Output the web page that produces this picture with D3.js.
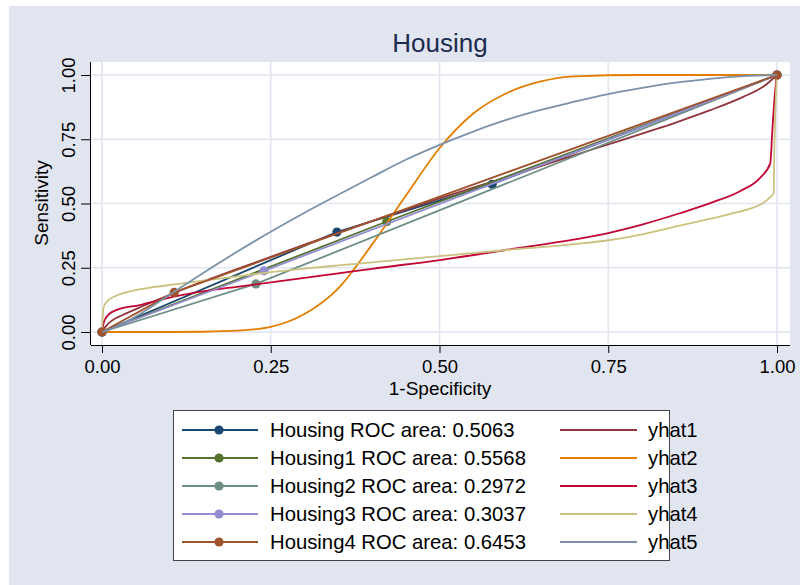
<!DOCTYPE html>
<html>
<head>
<meta charset="utf-8">
<script src="https://cdn.jsdelivr.net/npm/d3@7"></script>
<style>
  html, body { margin: 0; padding: 0; background: #ffffff; }
  svg { display: block; font-family: "Liberation Sans", Arial, sans-serif; }
</style>
</head>
<body>
<svg id="chart" width="800" height="585"></svg>
<script>
// ---------- data ----------
const chartTitle = "Housing";
const xTitle = "1-Specificity";
const yTitle = "Sensitivity";
const xTicks = [0, 0.25, 0.5, 0.75, 1];
const yTicks = [0, 0.25, 0.5, 0.75, 1];

// empirical ROC curves (connected points)
const rocNames = ["Housing", "Housing1", "Housing2", "Housing3", "Housing4"];
const rocAreas = ["0.5063", "0.5568", "0.2972", "0.3037", "0.6453"];
const rocX0 = [0, 0.348, 0.578, 1];
const rocY0 = [0, 0.389, 0.575, 1];
const rocX1 = [0, 0.422, 1];
const rocY1 = [0, 0.430, 1];
const rocX2 = [0, 0.228, 1];
const rocY2 = [0, 0.187, 1];
const rocX3 = [0, 0.240, 1];
const rocY3 = [0, 0.238, 1];
const rocX4 = [0, 0.107, 1];
const rocY4 = [0, 0.154, 1];

// fitted curves
const fitNames = ["yhat1", "yhat2", "yhat3", "yhat4", "yhat5"];
const fitX1 = [0, 0.005, 0.015, 0.03, 0.06, 0.1, 0.15, 0.2, 0.3, 0.4, 0.5, 0.6, 0.7, 0.75, 0.8, 0.85, 0.9, 0.95, 0.98, 1];
const fitY1 = [0, 0.02, 0.045, 0.065, 0.1, 0.145, 0.197, 0.245, 0.34, 0.432, 0.52, 0.603, 0.688, 0.73, 0.772, 0.815, 0.862, 0.915, 0.955, 1];
const fitX2 = [0, 0.1, 0.15, 0.2, 0.25, 0.3, 0.35, 0.4, 0.45, 0.5, 0.55, 0.6, 0.65, 0.7, 0.8, 1];
const fitY2 = [0, 0, 0.001, 0.005, 0.02, 0.07, 0.17, 0.34, 0.53, 0.715, 0.85, 0.93, 0.975, 0.995, 1, 1];
const fitX3 = [0, 0.002, 0.004, 0.012, 0.022, 0.056, 0.105, 0.157, 0.2, 0.25, 0.3, 0.35, 0.4, 0.5, 0.6, 0.7, 0.753, 0.8, 0.856, 0.905, 0.945, 0.975, 0.99, 0.993, 0.996, 0.999, 1];
const fitY3 = [0, 0.03, 0.047, 0.073, 0.086, 0.105, 0.137, 0.161, 0.176, 0.193, 0.211, 0.228, 0.246, 0.28, 0.32, 0.36, 0.387, 0.418, 0.462, 0.505, 0.548, 0.6, 0.656, 0.78, 0.9, 0.98, 1];
const fitX4 = [0, 0.001, 0.003, 0.008, 0.02, 0.04, 0.07, 0.107, 0.15, 0.2, 0.25, 0.3, 0.35, 0.412, 0.5, 0.6, 0.7, 0.753, 0.8, 0.856, 0.9, 0.93, 0.96, 0.975, 0.99, 0.995, 0.996, 0.998, 1];
const fitY4 = [0, 0.06, 0.1, 0.12, 0.14, 0.157, 0.172, 0.185, 0.2, 0.216, 0.233, 0.247, 0.259, 0.274, 0.295, 0.319, 0.342, 0.358, 0.38, 0.414, 0.44, 0.459, 0.48, 0.495, 0.525, 0.54, 0.7, 0.9, 1];
const fitX5 = [0, 0.02, 0.05, 0.1, 0.15, 0.2, 0.25, 0.3, 0.35, 0.4, 0.45, 0.5, 0.55, 0.6, 0.65, 0.7, 0.75, 0.8, 0.85, 0.9, 0.95, 1];
const fitY5 = [0, 0.02, 0.06, 0.145, 0.23, 0.312, 0.39, 0.464, 0.534, 0.603, 0.67, 0.728, 0.78, 0.826, 0.864, 0.896, 0.926, 0.95, 0.97, 0.985, 0.996, 1];

const rocColors = ["#1a476f", "#55752f", "#6e8e84", "#938dd2", "#a0522d"];
const fitColors = ["#90353b", "#e37e00", "#c10534", "#cac27e", "#7b92a8"];

// ---------- build series ----------
const zip = (xs, ys) => xs.map((x, i) => [x, ys[i]]);
const rocSeries = [
  zip(rocX0, rocY0), zip(rocX1, rocY1), zip(rocX2, rocY2), zip(rocX3, rocY3), zip(rocX4, rocY4)
];
const fitSeries = [
  zip(fitX1, fitY1), zip(fitX2, fitY2), zip(fitX3, fitY3), zip(fitX4, fitY4), zip(fitX5, fitY5)
];

// ---------- layout ----------
const svg = d3.select("#chart");
const W = 800, H = 585;
const plotBox = { left: 91, right: 790, top: 62, bottom: 345 };

svg.append("rect").attr("x", 0).attr("y", 0).attr("width", W).attr("height", H).attr("fill", "#ffffff");
svg.append("rect").attr("x", 9).attr("y", 6).attr("width", W - 9).attr("height", H - 6).attr("fill", "#e1e5f0");

const x = d3.scaleLinear().domain([0, 1]).range([102, 777]);
const y = d3.scaleLinear().domain([0, 1]).range([332, 75]);

// plot region
svg.append("rect")
  .attr("x", plotBox.left).attr("y", plotBox.top)
  .attr("width", plotBox.right - plotBox.left).attr("height", plotBox.bottom - plotBox.top)
  .attr("fill", "#ffffff");

// grid
const grid = svg.append("g");
grid.selectAll("line.h").data(yTicks).join("line")
  .attr("x1", plotBox.left).attr("x2", plotBox.right)
  .attr("y1", d => y(d)).attr("y2", d => y(d))
  .attr("stroke", "#e1e5f0").attr("stroke-width", 1.6);
grid.selectAll("line.v").data(xTicks).join("line")
  .attr("y1", plotBox.top).attr("y2", plotBox.bottom)
  .attr("x1", d => x(d)).attr("x2", d => x(d))
  .attr("stroke", "#e1e5f0").attr("stroke-width", 1.6);

// axes
const fmt = d3.format(".2f");
const xAxis = d3.axisBottom(x).tickValues(xTicks).tickFormat(fmt).tickSizeOuter(0).tickSize(8).tickPadding(7);
const gx = svg.append("g").attr("transform", `translate(0,${plotBox.bottom})`).call(xAxis);
gx.select(".domain").attr("d", `M${plotBox.left},0.5H${plotBox.right}`).attr("stroke", "#000");
gx.selectAll(".tick line").attr("stroke", "#000");
gx.selectAll(".tick text").attr("font-size", 18.5).attr("fill", "#000")
  .attr("font-family", "Liberation Sans, Arial, sans-serif");

const yAxis = d3.axisLeft(y).tickValues(yTicks).tickFormat(fmt).tickSizeOuter(0).tickSize(9).tickPadding(5);
const gy = svg.append("g").attr("transform", `translate(${plotBox.left - 1},0)`).call(yAxis);
gy.select(".domain").attr("d", `M0.5,${plotBox.top}V${plotBox.bottom}`).attr("stroke", "#000");
gy.selectAll(".tick line").attr("stroke", "#000");
gy.selectAll(".tick text")
  .attr("font-size", 18.5).attr("fill", "#000")
  .attr("font-family", "Liberation Sans, Arial, sans-serif")
  .attr("text-anchor", "middle").attr("dy", null).attr("x", null)
  .attr("transform", "translate(-22,0) rotate(-90)")
  .attr("dominant-baseline", "central");

// titles
svg.append("text").attr("x", 440).attr("y", 52).attr("text-anchor", "middle")
  .attr("font-size", 26).attr("fill", "#1c2b4e").text(chartTitle);
svg.append("text").attr("x", 440).attr("y", 395).attr("text-anchor", "middle")
  .attr("font-size", 19).attr("fill", "#000").text(xTitle);
svg.append("text").attr("transform", "translate(48,203) rotate(-90)").attr("text-anchor", "middle")
  .attr("font-size", 19).attr("fill", "#000").text(yTitle);

// series (Stata plotting order interleaves)
const line = d3.line().x(d => x(d[0])).y(d => y(d[1]));
const smooth = d3.line().x(d => x(d[0])).y(d => y(d[1])).curve(d3.curveMonotoneX);
const marks = svg.append("g");
for (let i = 0; i < 5; i++) {
  const g = marks.append("g");
  g.append("path").datum(rocSeries[i]).attr("d", line)
    .attr("fill", "none").attr("stroke", rocColors[i]).attr("stroke-width", 1.8);
  g.selectAll("circle").data(rocSeries[i]).join("circle")
    .attr("cx", d => x(d[0])).attr("cy", d => y(d[1])).attr("r", 4.6)
    .attr("fill", rocColors[i]);
  marks.append("path").datum(fitSeries[i]).attr("d", smooth)
    .attr("fill", "none").attr("stroke", fitColors[i]).attr("stroke-width", 1.8);
}

// legend
const lg = svg.append("g");
lg.append("rect").attr("x", 173.5).attr("y", 410.5).attr("width", 496).attr("height", 150)
  .attr("fill", "#ffffff").attr("stroke", "#444").attr("stroke-width", 1);
const rowY = d3.scaleLinear().domain([0, 4]).range([430, 542]);
rocNames.forEach((n, i) => {
  const yy = rowY(i);
  lg.append("line").attr("x1", 182).attr("x2", 258).attr("y1", yy).attr("y2", yy)
    .attr("stroke", rocColors[i]).attr("stroke-width", 1.8);
  lg.append("circle").attr("cx", 219).attr("cy", yy).attr("r", 4.6).attr("fill", rocColors[i]);
  lg.append("text").attr("x", 270).attr("y", yy).attr("dy", "0.36em")
    .attr("font-size", 20.3).attr("fill", "#000").text(`${n} ROC area: ${rocAreas[i]}`);
});
fitNames.forEach((n, i) => {
  const yy = rowY(i);
  lg.append("line").attr("x1", 560).attr("x2", 637).attr("y1", yy).attr("y2", yy)
    .attr("stroke", fitColors[i]).attr("stroke-width", 1.8);
  lg.append("text").attr("x", 648).attr("y", yy).attr("dy", "0.36em")
    .attr("font-size", 20.3).attr("fill", "#000").text(n);
});
</script>
</body>
</html>
